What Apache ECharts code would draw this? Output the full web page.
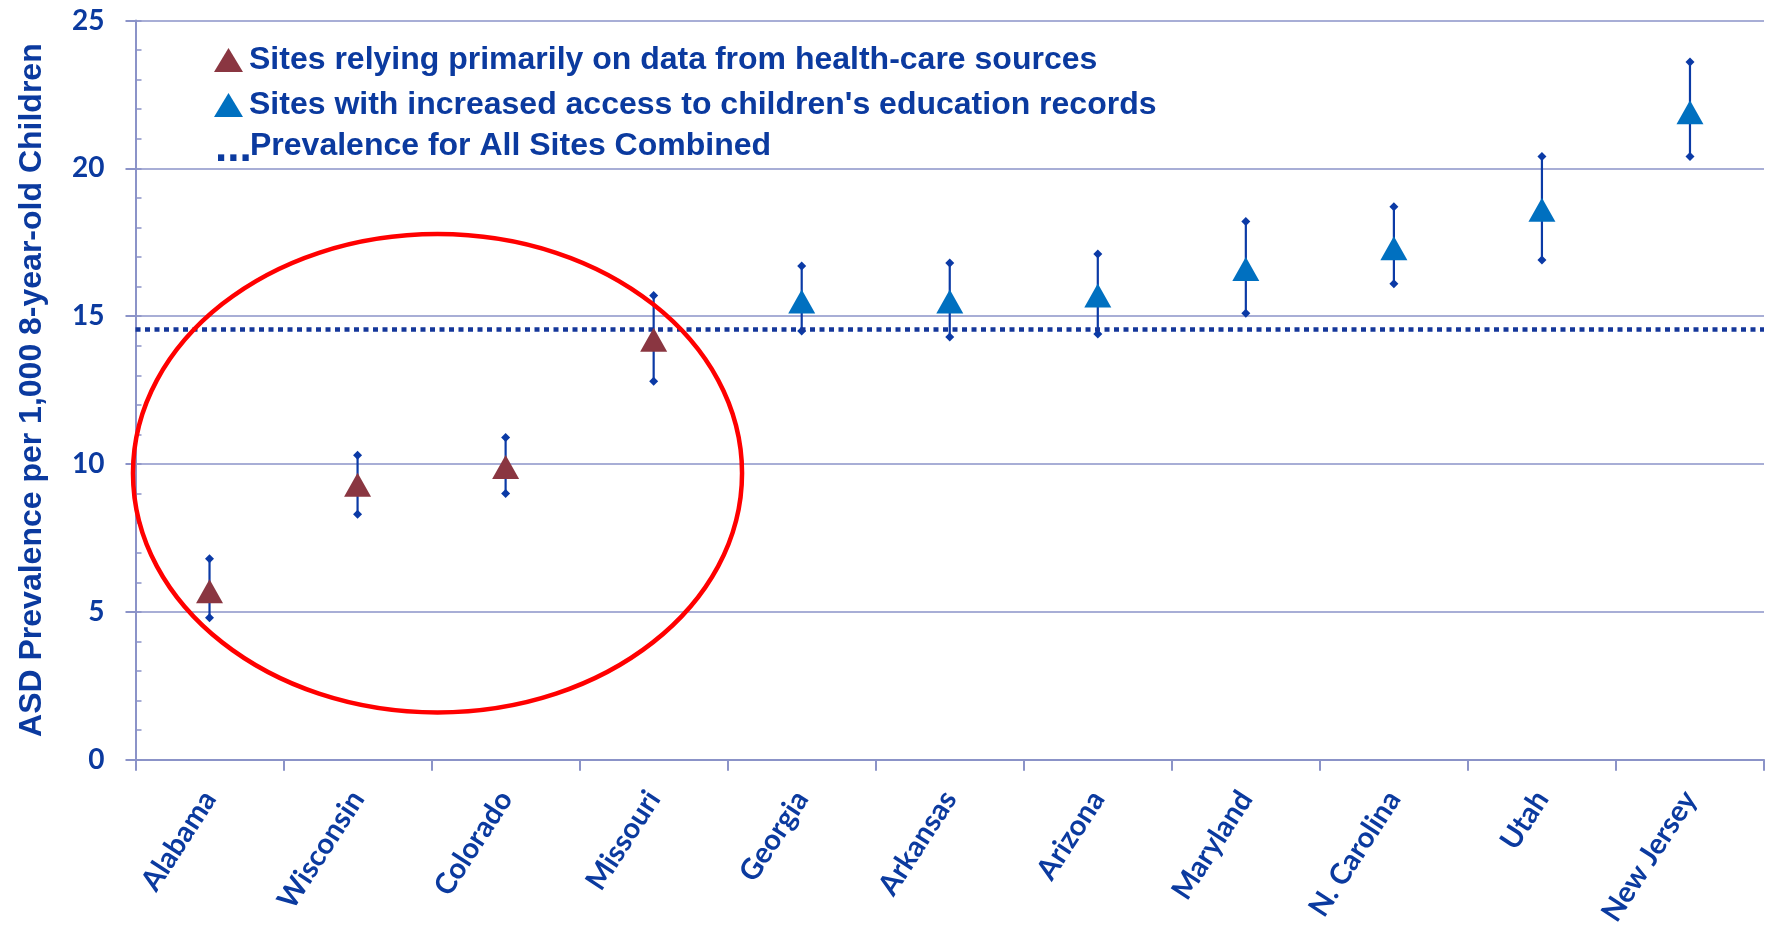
<!DOCTYPE html>
<html>
<head>
<meta charset="utf-8">
<script src="https://cdn.jsdelivr.net/npm/echarts@6/dist/echarts.min.js"></script>
<style>
  html, body { margin: 0; padding: 0; background: #ffffff; }
  #chart { width: 1770px; height: 929px; }
</style>
</head>
<body>
<div id="chart"></div>
<script>
// ADDM sites, ASD prevalence per 1,000 8-year-old children with 95% CI
const categories = ['Alabama', 'Wisconsin', 'Colorado', 'Missouri', 'Georgia', 'Arkansas',
  'Arizona', 'Maryland', 'N. Carolina', 'Utah', 'New Jersey'];
const prevalence = [5.7, 9.3, 9.9, 14.2, 15.5, 15.5, 15.7, 16.6, 17.3, 18.6, 21.9];
const ciLow = [4.8, 8.3, 9.0, 12.8, 14.5, 14.3, 14.4, 15.1, 16.1, 16.9, 20.4];
const ciHigh = [6.8, 10.3, 10.9, 15.7, 16.7, 16.8, 17.1, 18.2, 18.7, 20.4, 23.6];
const healthCareSites = ['Alabama', 'Wisconsin', 'Colorado', 'Missouri'];
const overallPrevalence = 14.55;
const yTickValues = [0, 5, 10, 15, 20, 25];

const seriesNames = [
  'Sites relying primarily on data from health-care sources',
  "Sites with increased access to children's education records"
];
const combinedLabel = 'Prevalence for All Sites Combined';

const TEXT_BLUE = '#0b3a9f';
const GRID_COLOR = '#8b93c8';
const BAR_COLOR = '#0b3aa6';

const healthData = [];
const educationData = [];
categories.forEach((c, i) => {
  (healthCareSites.includes(c) ? healthData : educationData).push([i, prevalence[i]]);
});
const ciData = categories.map((c, i) => [i, ciLow[i], ciHigh[i]]);

const chart = echarts.init(document.getElementById('chart'), null, { renderer: 'canvas' });

function diamond(cx, cy, w, h) {
  return [[cx, cy - h / 2], [cx + w / 2, cy], [cx, cy + h / 2], [cx - w / 2, cy]];
}

const option = {
  animation: false,
  backgroundColor: '#ffffff',
  grid: { left: 135.5, right: 6, top: 20.5, bottom: 167 },
  legend: {
    orient: 'vertical',
    left: 209,
    top: 39,
    itemWidth: 29,
    itemHeight: 24,
    itemGap: 13,
    selectedMode: false,
    data: [
      { name: seriesNames[0], icon: 'triangle' },
      { name: seriesNames[1], icon: 'triangle' }
    ],
    textStyle: {
      fontFamily: '"Liberation Sans", Arial, sans-serif',
      fontWeight: 'bold',
      fontSize: 32,
      lineHeight: 32,
      color: TEXT_BLUE,
      padding: [0, 0, 0, 1]
    }
  },
  xAxis: {
    type: 'category',
    data: categories,
    boundaryGap: true,
    axisLine: { lineStyle: { color: GRID_COLOR, width: 2 } },
    axisTick: { show: true, length: 11, lineStyle: { color: GRID_COLOR, width: 2 } },
    axisLabel: {
      rotate: 57,
      margin: 34,
      interval: 0,
      fontFamily: 'Lato, "Open Sans", sans-serif',
      fontWeight: 'bold',
      fontSize: 29,
      color: TEXT_BLUE
    },
    splitLine: { show: false }
  },
  yAxis: [
    {
      type: 'value',
      min: yTickValues[0],
      max: yTickValues[yTickValues.length - 1],
      interval: 5,
      name: 'ASD Prevalence per 1,000 8-year-old Children',
      nameLocation: 'middle',
      nameRotate: 90,
      nameGap: 87,
      nameTextStyle: {
        fontFamily: '"Liberation Sans", Arial, sans-serif',
        fontWeight: 'bold',
        fontSize: 32,
        color: TEXT_BLUE
      },
      axisLine: { show: true, lineStyle: { color: GRID_COLOR, width: 2 } },
      axisTick: { show: true, length: 10, lineStyle: { color: GRID_COLOR, width: 2 } },
      axisLabel: {
        margin: 31,
        fontFamily: 'Lato, "Open Sans", sans-serif',
        fontWeight: 'bold',
        fontSize: 28,
        color: TEXT_BLUE
      },
      splitLine: { show: true, lineStyle: { color: GRID_COLOR, width: 1.5 } }
    },
    {
      // minor ticks, drawn inside the plot
      type: 'value',
      position: 'left',
      min: yTickValues[0],
      max: yTickValues[yTickValues.length - 1],
      interval: 1,
      axisLine: { show: false },
      axisTick: { show: true, inside: true, length: 6, lineStyle: { color: GRID_COLOR, width: 1.5 } },
      axisLabel: { show: false },
      splitLine: { show: false }
    }
  ],
  series: [
    {
      name: 'ci',
      type: 'custom',
      z: 2,
      data: ciData,
      encode: { x: 0, y: [1, 2] },
      renderItem: function (params, api) {
        const lo = api.coord([api.value(0), api.value(1)]);
        const hi = api.coord([api.value(0), api.value(2)]);
        return {
          type: 'group',
          children: [
            { type: 'line', shape: { x1: lo[0], y1: lo[1], x2: hi[0], y2: hi[1] },
              style: { stroke: BAR_COLOR, lineWidth: 2.2 } },
            { type: 'polygon', shape: { points: diamond(lo[0], lo[1], 9, 9) },
              style: { fill: BAR_COLOR } },
            { type: 'polygon', shape: { points: diamond(hi[0], hi[1], 9, 9) },
              style: { fill: BAR_COLOR } }
          ]
        };
      },
      markLine: {
        silent: true,
        symbol: ['none', 'none'],
        label: { show: false },
        lineStyle: { color: '#15379a', width: 4.5, type: [5, 4.5], opacity: 1 },
        data: [{ yAxis: overallPrevalence }]
      }
    },
    {
      name: seriesNames[0],
      type: 'scatter',
      z: 5,
      symbol: 'triangle',
      symbolSize: [27, 24],
      itemStyle: { color: '#8a3641', opacity: 1 },
      data: healthData
    },
    {
      name: seriesNames[1],
      type: 'scatter',
      z: 5,
      symbol: 'triangle',
      symbolSize: [27, 24],
      itemStyle: { color: '#0070c0', opacity: 1 },
      data: educationData
    }
  ]
};

chart.setOption(option);

// Red ellipse around the health-care sites, placed in axis coordinates
const c0 = chart.convertToPixel({ xAxisIndex: 0 }, 0);
const c1 = chart.convertToPixel({ xAxisIndex: 0 }, 1);
const catW = c1 - c0;
const ellLeft = c0 - 0.517 * catW;
const ellRight = c0 + 3.597 * catW;
const ellTop = chart.convertToPixel({ yAxisIndex: 0 }, 17.78);
const ellBottom = chart.convertToPixel({ yAxisIndex: 0 }, 1.6);

const legendFont = 'bold 32px "Liberation Sans", Arial, sans-serif';

chart.setOption({
  graphic: [
    {
      type: 'ellipse',
      z: 10,
      shape: {
        cx: (ellLeft + ellRight) / 2,
        cy: (ellTop + ellBottom) / 2,
        rx: (ellRight - ellLeft) / 2,
        ry: (ellBottom - ellTop) / 2
      },
      style: { fill: 'none', stroke: '#ff0000', lineWidth: 4.5 }
    },
    {
      type: 'text',
      left: 215,
      top: 127,
      style: {
        text: '...',
        font: 'bold 44px "Liberation Sans", Arial, sans-serif',
        fill: TEXT_BLUE
      }
    },
    {
      type: 'text',
      left: 250,
      top: 130,
      style: {
        text: combinedLabel,
        font: legendFont,
        fill: TEXT_BLUE
      }
    }
  ]
});
</script>
</body>
</html>
